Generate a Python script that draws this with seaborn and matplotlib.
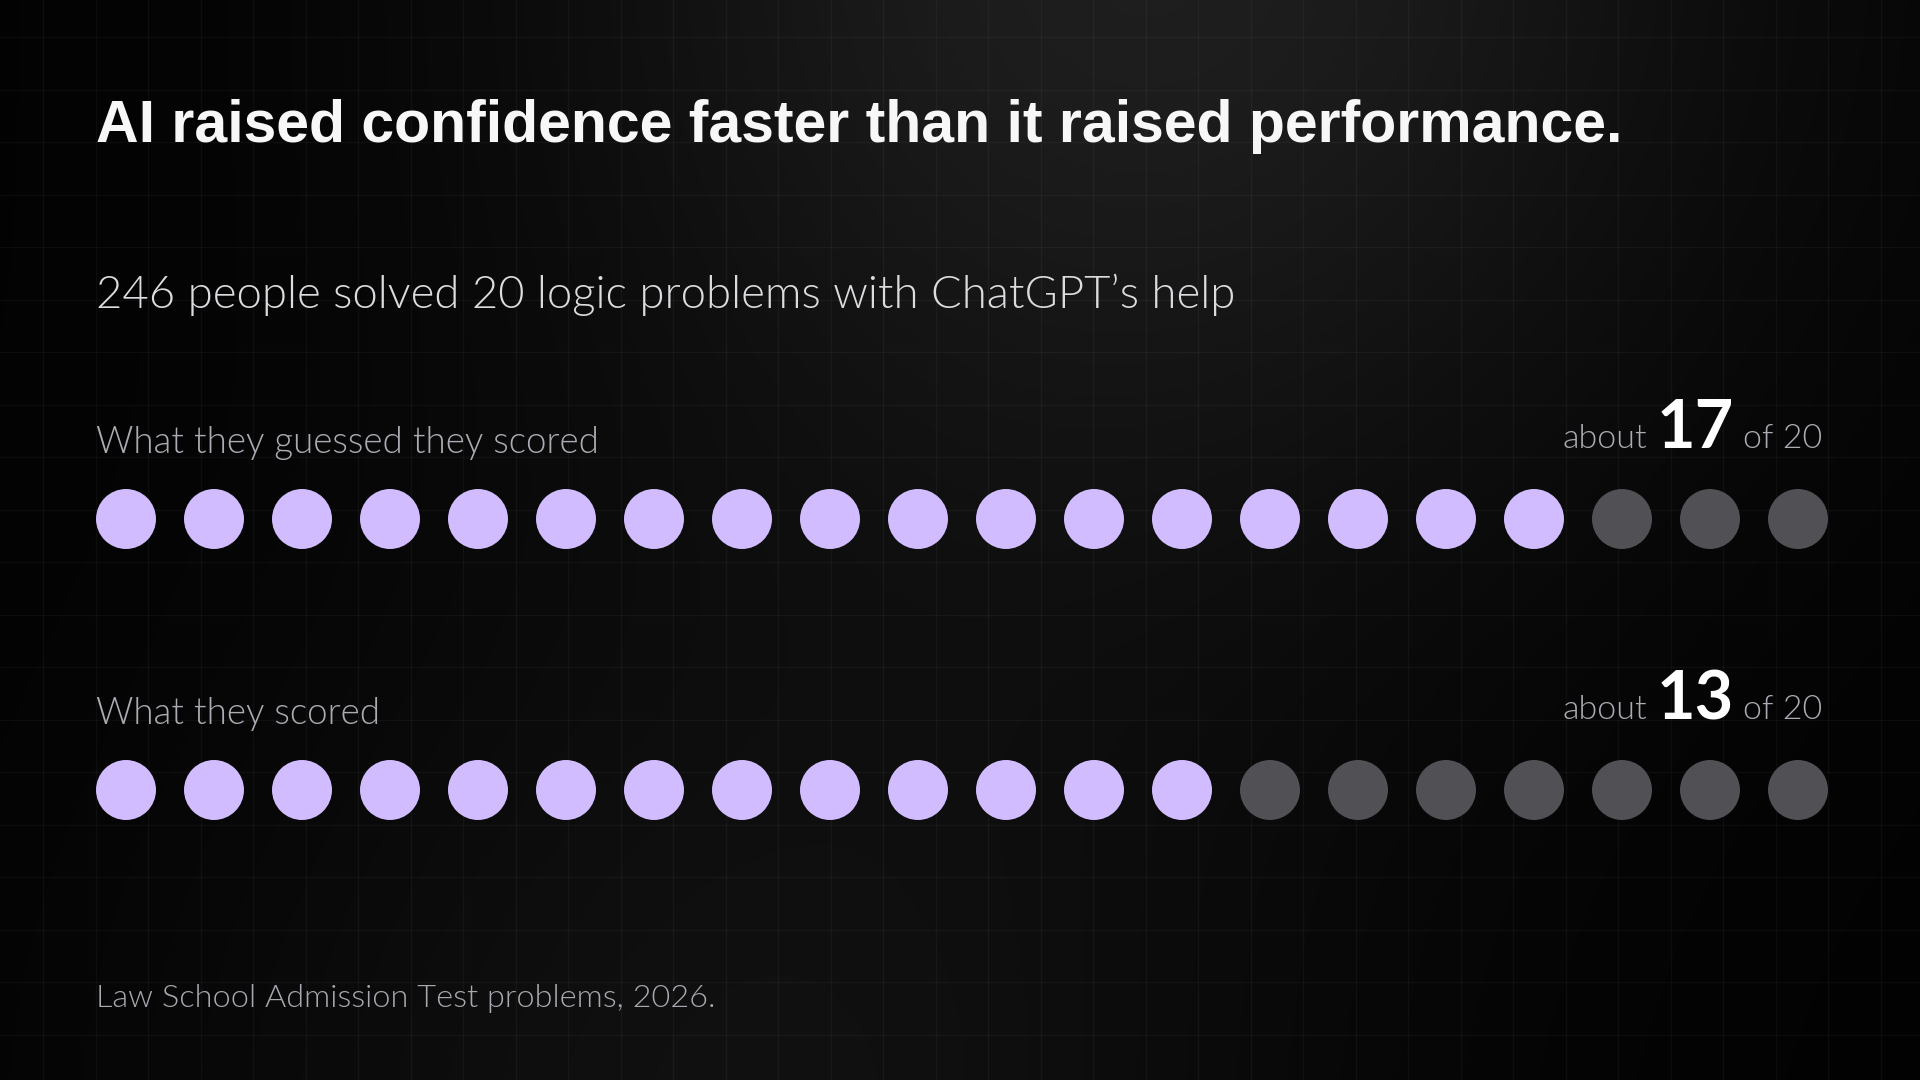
import numpy as np
import pandas as pd
import matplotlib.pyplot as plt
import seaborn as sns

sns.set_style("dark")

# Chart content
title = "AI raised confidence faster than it raised performance."
subtitle = "246 people solved 20 logic problems with ChatGPT’s help"
row_labels = ["What they guessed they scored", "What they scored"]
row_counts = [17, 13]
total = 20
footer = "Law School Admission Test problems, 2026."

filled_color = "#d0bcff"
empty_color = "#505055"

plt.rcParams['font.family'] = ['Lato', 'DejaVu Sans']

# Build the dot table: one row per problem per group
records = []
for r, (label, count) in enumerate(zip(row_labels, row_counts)):
    for p in range(1, total + 1):
        records.append({'row': r, 'problem': p, 'state': 'hit' if p <= count else 'miss'})
df = pd.DataFrame(records)

fig = plt.figure(figsize=(19.2, 10.8), dpi=100)
fig.patch.set_facecolor('black')

# Background: dark glow + faint grid, in pixel coordinates
bg = fig.add_axes([0, 0, 1, 1])
yy, xx = np.mgrid[0:1080, 0:1920]
glow = (0.008
        + 0.11 * np.exp(-((xx - 1150) ** 2 + (yy + 60) ** 2) / (2 * 430 ** 2))
        + 0.055 * np.exp(-((xx - 750) ** 2 + (yy - 1150) ** 2) / (2 * 420 ** 2)))
bg.imshow(glow, cmap='gray', vmin=0, vmax=1, extent=(0, 1920, 1080, 0),
          aspect='auto', interpolation='bilinear')
bg.set_xlim(0, 1920)
bg.set_ylim(1080, 0)
bg.set_xticks(np.arange(43, 1920, 52.5))
bg.set_yticks(np.arange(37, 1080, 52.5))
bg.grid(True, color='white', alpha=0.04, lw=1)
bg.tick_params(length=0, labelbottom=False, labelleft=False)
for s in bg.spines.values():
    s.set_visible(False)

# Dots
ax = fig.add_axes([82 / 1920, (1080 - 925.5) / 1080, 1760 / 1920, 542 / 1080])
ax.patch.set_alpha(0)
sns.scatterplot(data=df, x='problem', y='row', hue='state',
                palette={'hit': filled_color, 'miss': empty_color},
                s=1866, linewidth=0, legend=False, ax=ax)
ax.set_xlim(0.5, total + 0.5)
ax.set_ylim(1.5, -0.5)
ax.axis('off')

# Texts
light = 300
bg.text(96, 142, title, fontsize=42.5, fontweight='bold', color='#f7f7f7',
        family=['Liberation Sans', 'DejaVu Sans'], va='baseline')
bg.text(96, 308, subtitle, fontsize=32.8, fontweight=light, color='#dcdce0', va='baseline')
bg.text(96, 1007, footer, fontsize=23.4, fontweight=light, color='#a8a8b0', va='baseline')

renderer = fig.canvas.get_renderer()
label_base = [453, 724]
value_base = [448, 719]
for label, count, lb, vb in zip(row_labels, row_counts, label_base, value_base):
    bg.text(96, lb, label, fontsize=26.5, fontweight=light, color='#ababb3', va='baseline')
    x = 1822
    pieces = [(f"of {total}", 24.5, light, '#ababb3'),
              (str(count), 48, 'bold', '#ffffff'),
              ("about", 24.5, light, '#ababb3')]
    for txt, size, weight, color in pieces:
        t = bg.text(x, vb, txt, ha='right', va='baseline', fontsize=size,
                    fontweight=weight, color=color)
        bb = t.get_window_extent(renderer)
        x = x - bb.width - 9

fig.savefig('out.png', dpi=100, facecolor='black')
